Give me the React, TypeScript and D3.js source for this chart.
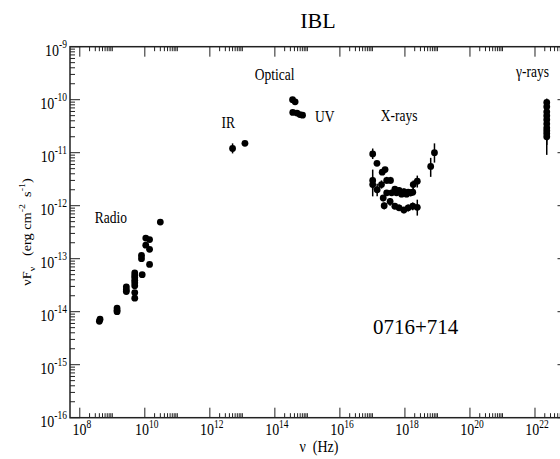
import React from "react";
import * as d3 from "d3";

// ---------------- data ----------------
const radioNu = [4.0e8, 4.2e8, 1.4e9, 1.4e9, 1.4e9, 2.7e9, 2.7e9, 2.7e9, 4.9e9, 4.9e9, 4.9e9, 4.9e9, 4.9e9, 4.9e9, 4.9e9, 4.9e9, 8.3e9, 7.9e9, 7.9e9, 1.07e10, 1.07e10, 1.4e10, 1.4e10, 1.4e10, 3.0e10];
const radioFlux = [6.6e-15, 7.2e-15, 1.17e-14, 1.07e-14, 1.0e-14, 2.95e-14, 2.6e-14, 2.4e-14, 5.4e-14, 4.8e-14, 4.4e-14, 3.9e-14, 3.5e-14, 3.1e-14, 2.3e-14, 1.8e-14, 5.0e-14, 1.15e-13, 1.0e-13, 2.45e-13, 1.8e-13, 2.3e-13, 1.5e-13, 7.8e-14, 4.9e-13];

const irNu = [5.0e12, 1.2e13];
const irFlux = [1.2e-11, 1.5e-11];
const irLo = [0.97e-11, 1.4e-11];
const irHi = [1.5e-11, 1.6e-11];

const optNu = [3.5e14, 4.2e14];
const optFlux = [1.0e-10, 9.1e-11];

const uvNu = [3.55e14, 4.8e14, 5.9e14, 7.1e14];
const uvFlux = [5.75e-11, 5.6e-11, 5.25e-11, 5.1e-11];

const xrayNu = [1.02e17, 1.38e17, 2.0e17, 2.45e17, 1.02e17, 1.02e17, 1.4e17, 1.9e17, 2.75e17, 3.6e17, 2.15e17, 2.3e17, 3.5e17,
  4.9e17, 6.6e17, 9.3e17, 1.26e18, 1.74e18, 1.8e18, 2.4e18,
  2.75e17, 3.9e17, 5.5e17, 7.9e17, 1.12e18, 1.5e18,
  4.9e17, 6.6e17, 9.3e17, 1.26e18, 1.74e18, 2.4e18,
  6.2e18, 8.1e18];
const xrayFlux = [9.5e-12, 6.3e-12, 4.3e-12, 4.8e-12, 3.0e-12, 2.5e-12, 2.0e-12, 2.5e-12, 3.0e-12, 3.0e-12, 1.4e-12, 1.0e-12, 1.2e-12,
  2.05e-12, 1.95e-12, 1.85e-12, 1.8e-12, 1.8e-12, 2.5e-12, 2.9e-12,
  1.75e-12, 1.75e-12, 1.75e-12, 1.65e-12, 1.65e-12, 1.75e-12,
  9.8e-13, 9.1e-13, 8.3e-13, 9.1e-13, 9.8e-13, 9.3e-13,
  5.5e-12, 1.0e-11];
const xrayLo = [7.6e-12, 5.6e-12, 3.8e-12, 4.3e-12, 2.0e-12, 1.5e-12, 1.5e-12, 2.1e-12, 2.6e-12, 2.6e-12, 1.2e-12, 0.85e-12, 1.0e-12,
  1.8e-12, 1.7e-12, 1.6e-12, 1.55e-12, 1.55e-12, 2.0e-12, 2.2e-12,
  1.55e-12, 1.55e-12, 1.55e-12, 1.45e-12, 1.45e-12, 1.5e-12,
  8.5e-13, 8.0e-13, 7.2e-13, 7.8e-13, 8.2e-13, 6.5e-13,
  3.5e-12, 6.5e-12];
const xrayHi = [1.2e-11, 7.0e-12, 4.9e-12, 5.4e-12, 4.8e-12, 3.5e-12, 2.6e-12, 3.0e-12, 3.5e-12, 3.5e-12, 1.6e-12, 1.15e-12, 1.4e-12,
  2.3e-12, 2.2e-12, 2.1e-12, 2.05e-12, 2.1e-12, 3.0e-12, 3.7e-12,
  1.95e-12, 1.95e-12, 1.95e-12, 1.85e-12, 1.85e-12, 2.0e-12,
  1.1e-12, 1.05e-12, 0.95e-12, 1.05e-12, 1.15e-12, 1.3e-12,
  8.0e-12, 1.5e-11];

const gammaNu = [2.3e22, 2.3e22, 2.3e22, 2.3e22, 2.3e22, 2.3e22, 2.3e22, 2.3e22, 2.3e22, 2.3e22];
const gammaFlux = [8.9e-11, 7.4e-11, 5.9e-11, 5.0e-11, 4.2e-11, 3.5e-11, 2.95e-11, 2.6e-11, 2.3e-11, 2.0e-11];
const gammaLo = [7.5e-11, 6.0e-11, 4.6e-11, 3.8e-11, 3.1e-11, 2.5e-11, 2.0e-11, 1.7e-11, 1.4e-11, 0.91e-11];
const gammaHi = [1.05e-10, 9.0e-11, 7.4e-11, 6.4e-11, 5.5e-11, 4.7e-11, 4.1e-11, 3.7e-11, 3.4e-11, 2.6e-11];

const xTickExps = [8, 10, 12, 14, 16, 18, 20, 22];
const yTickExps = [-16, -15, -14, -13, -12, -11, -10, -9];

const bandLabels = ["Radio", "IR", "Optical", "UV", "X-rays", "γ-rays"];
const bandLabelNu = [2.9e8, 2.3e12, 2.4e13, 1.7e15, 1.8e17, 2.6e21];
const bandLabelFlux = [4.8e-13, 2.95e-11, 2.4e-10, 3.85e-11, 4.0e-11, 2.7e-10];

const title = "IBL";
const sourceName = "0716+714";

// ---------------- layout ----------------
const W = 560;
const H = 459;
const FONT = "'Liberation Serif', 'Times New Roman', Times, serif";
const x = d3.scaleLog().domain([5e7, 1e23]).range([70, 567.5]);
const y = d3.scaleLog().domain([1e-16, 1e-9]).range([417.7, 46.7]);
const X0 = x.range()[0];
const X1 = x.range()[1];
const Y0 = y.range()[0];
const Y1 = y.range()[1];
const AX = "#222";

const xMinor: number[] = [];
xTickExps.forEach((e) => {
  for (let k = 2; k <= 10; k++) {
    const v = k * Math.pow(10, e);
    if (v <= x.domain()[1] * 1.0001) xMinor.push(v);
  }
});
const yMinor: number[] = [];
yTickExps.slice(0, -1).forEach((e) => {
  for (let k = 2; k <= 9; k++) yMinor.push(k * Math.pow(10, e));
});

function Dots({ nu, flux, lo, hi }: { nu: number[]; flux: number[]; lo?: number[]; hi?: number[] }) {
  return (
    <g>
      {lo && hi
        ? nu.map((n, i) => (
            <line key={"e" + i} x1={x(n)} x2={x(n)} y1={y(lo[i])} y2={y(hi[i])} stroke="#000" strokeWidth={1.5} />
          ))
        : null}
      {nu.map((n, i) => (
        <circle key={"c" + i} cx={x(n)} cy={y(flux[i])} r={3.4} fill="#000" />
      ))}
    </g>
  );
}

function Pow({ exp, tx, ty, anchor }: { exp: number; tx: number; ty: number; anchor: string }) {
  return (
    <g transform={`translate(${tx},${ty}) scale(1,1.25)`}>
      <text textAnchor={anchor} fontFamily={FONT} fontSize={14} fill="#000">
        10
        <tspan dy={-6} fontSize={9.5}>{String(exp)}</tspan>
      </text>
    </g>
  );
}

export default function App() {
  return (
    <svg width={W} height={H} style={{ position: "absolute", left: 0, top: 0, background: "#fff" }}>
      <rect x={0} y={0} width={W} height={H} fill="#fff" />
      {/* title */}
      <text x={318} y={28} textAnchor="middle" fontFamily={FONT} fontSize={22}>{title}</text>

      {/* minor ticks */}
      {xMinor.map((v, i) => (
        <g key={"xm" + i}>
          <line x1={x(v)} x2={x(v)} y1={Y0} y2={Y0 - 4.5} stroke={AX} strokeWidth={1} />
          <line x1={x(v)} x2={x(v)} y1={Y1} y2={Y1 + 4.5} stroke={AX} strokeWidth={1} />
        </g>
      ))}
      {yMinor.map((v, i) => (
        <g key={"ym" + i}>
          <line x1={X0} x2={X0 + 5} y1={y(v)} y2={y(v)} stroke={AX} strokeWidth={1} />
          <line x1={X1} x2={X1 - 5} y1={y(v)} y2={y(v)} stroke={AX} strokeWidth={1} />
        </g>
      ))}
      {/* major ticks */}
      {xTickExps.map((e) => {
        const px = x(Math.pow(10, e));
        return (
          <g key={"xM" + e}>
            <line x1={px} x2={px} y1={Y0} y2={Y0 - 10} stroke={AX} strokeWidth={1} />
            <line x1={px} x2={px} y1={Y1} y2={Y1 + 10} stroke={AX} strokeWidth={1} />
            <Pow exp={e} tx={px + 2} ty={435} anchor="middle" />
          </g>
        );
      })}
      {yTickExps.map((e) => {
        const py = y(Math.pow(10, e));
        return (
          <g key={"yM" + e}>
            <line x1={X0} x2={X0 + 10} y1={py} y2={py} stroke={AX} strokeWidth={1} />
            <line x1={X1} x2={X1 - 10} y1={py} y2={py} stroke={AX} strokeWidth={1} />
            <Pow exp={e} tx={67} ty={py + 9} anchor="end" />
          </g>
        );
      })}
      {/* frame */}
      <rect x={X0} y={Y1} width={X1 - X0} height={Y0 - Y1} fill="none" stroke={AX} strokeWidth={1.5} />

      {/* axis labels */}
      <g transform="translate(319,452) scale(1,1.15)">
        <text textAnchor="middle" fontFamily={FONT} fontSize={14} style={{ whiteSpace: "pre" }}>
          {"ν  (Hz)"}
        </text>
      </g>
      <g transform="translate(31,232) rotate(-90) scale(1.1,1)">
        <text textAnchor="middle" fontFamily={FONT} fontSize={13} style={{ whiteSpace: "pre" }}>
          νF<tspan dy={4} fontSize={9}>ν</tspan>
          <tspan dy={-4}>{"   (erg cm"}</tspan>
          <tspan dy={-6} fontSize={9}>-2</tspan>
          <tspan dy={6}>{"  s"}</tspan>
          <tspan dy={-6} fontSize={9}>-1</tspan>
          <tspan dy={6}>)</tspan>
        </text>
      </g>

      {/* band labels */}
      {bandLabels.map((t, i) => (
        <g key={t} transform={`translate(${x(bandLabelNu[i])},${y(bandLabelFlux[i])}) scale(1,1.2)`}>
          <text fontFamily={FONT} fontSize={13.5}>{t}</text>
        </g>
      ))}
      <text x={373} y={334} fontFamily={FONT} fontSize={21}>{sourceName}</text>

      {/* data */}
      <Dots nu={radioNu} flux={radioFlux} />
      <Dots nu={irNu} flux={irFlux} lo={irLo} hi={irHi} />
      <Dots nu={optNu} flux={optFlux} />
      <Dots nu={uvNu} flux={uvFlux} />
      <Dots nu={xrayNu} flux={xrayFlux} lo={xrayLo} hi={xrayHi} />
      <Dots nu={gammaNu} flux={gammaFlux} lo={gammaLo} hi={gammaHi} />
    </svg>
  );
}
